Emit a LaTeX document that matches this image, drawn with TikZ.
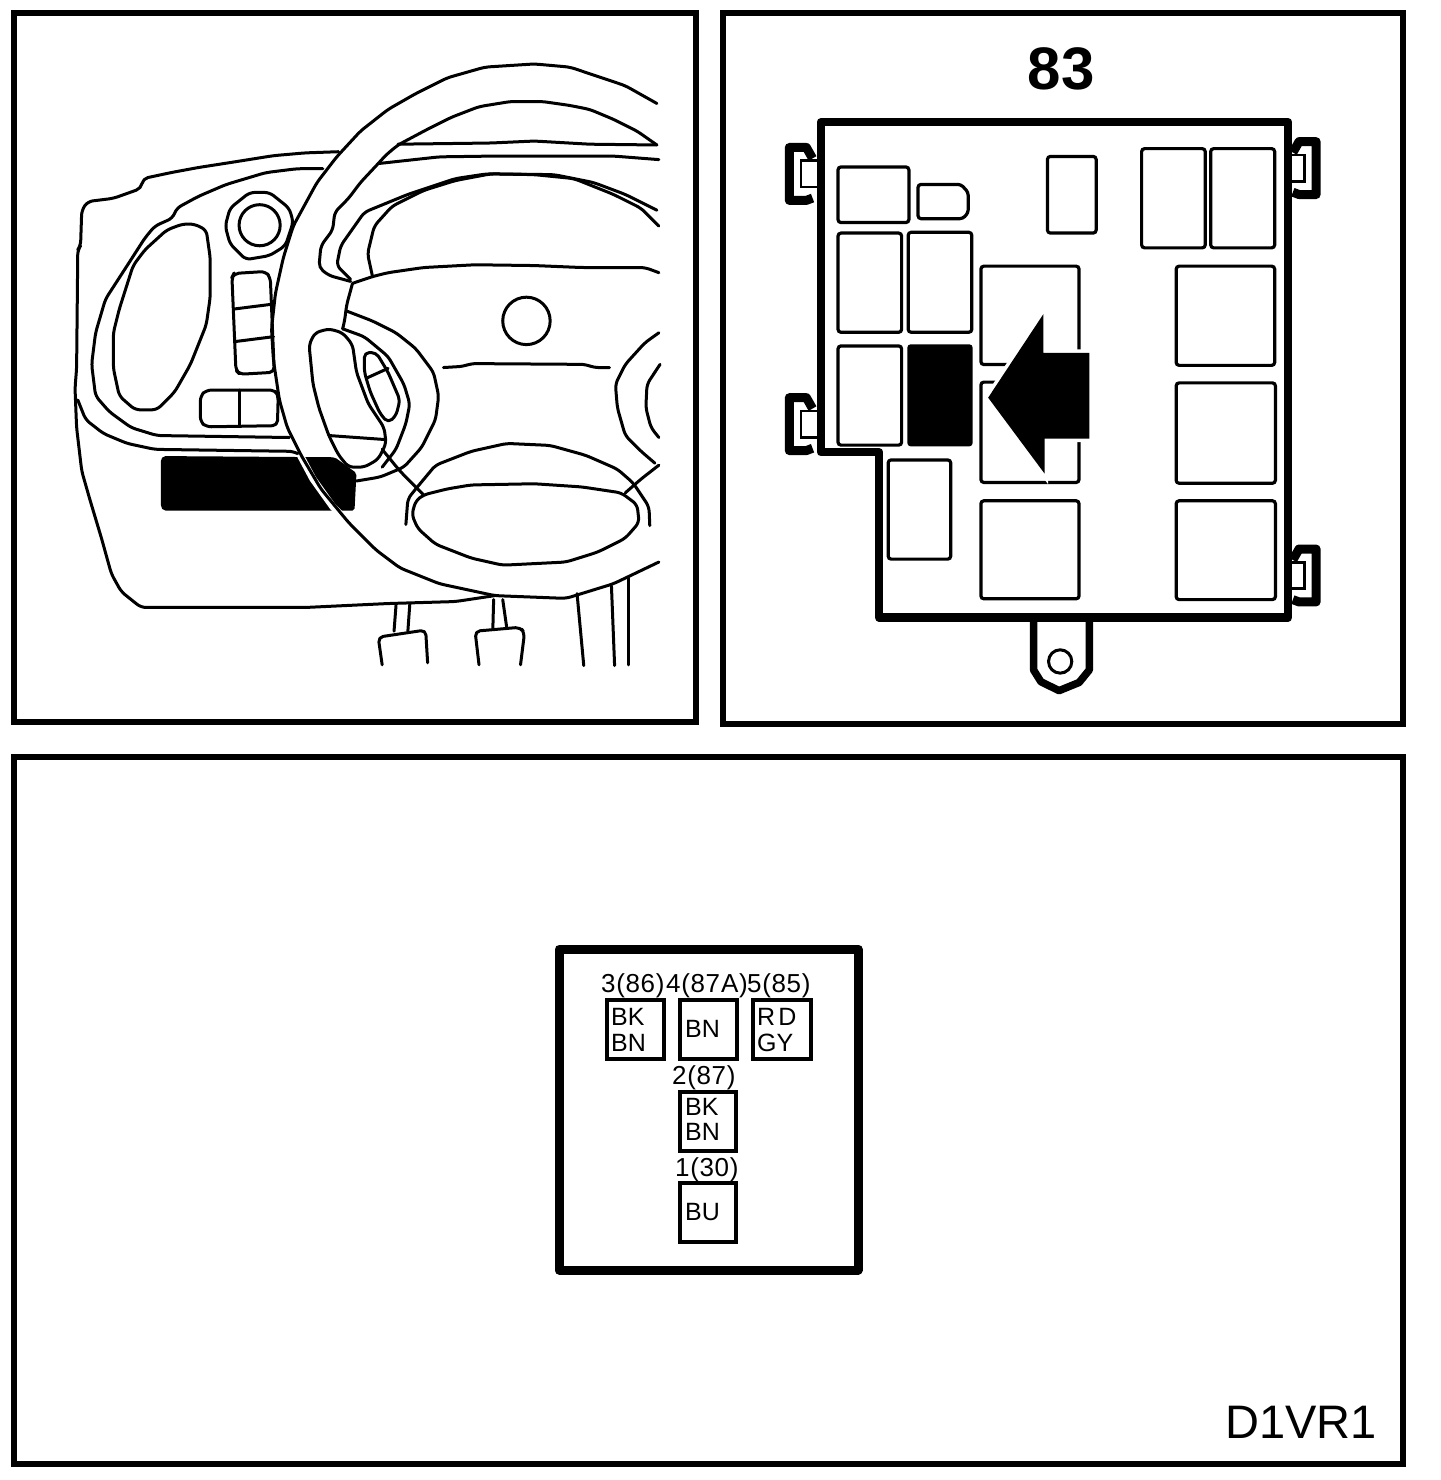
\documentclass[tikz,border=0pt]{standalone}
\usepackage{fontspec}
\setmainfont{Liberation Sans}
\newfontfamily\labfont[LetterSpace=2.5]{Liberation Sans}
\newcommand{\wirefs}{\fontsize{25}{25}\selectfont}
\newcommand{\labfs}{\fontsize{26}{26}\selectfont}
\tikzset{
  panel/.style={draw=black,line width=5.5pt,fill=white},
  art/.style={draw=black,line width=3pt,line join=round,line cap=round,rounded corners=5pt},
  relay/.style={draw=black,line width=3.2pt,rounded corners=3pt},
  pin/.style={draw=black,line width=3.5pt},
  pinlabel/.style={anchor=base west,inner sep=0pt,font=\labfont\labfs},
  wire/.style={anchor=base west,inner sep=0pt,font=\wirefs},
  lug/.pic={
    \draw[black,line width=9pt,line join=round] (-8,62)--(-25,68)--(-72,68)--(-72,-68)--(-25,-68)--(-8,-40);
    \draw[black,line width=2.5pt] (-40,-34) rectangle (8,34);
  }
}
\begin{document}
\begin{tikzpicture}[x=1pt,y=-1pt]
\useasboundingbox (0,0) rectangle (1440,1480);
\fill[white] (0,0) rectangle (1440,1480);
\draw[panel] (14,13) rectangle (696,722);
\draw[panel] (723,13) rectangle (1403,724);
\draw[panel] (14,757) rectangle (1403,1464);

% ---- dashboard ----
\begin{scope}[shift={(60,60)},x=0.3953pt,y=-0.3953pt]
\fill[black,rounded corners=2pt] (262,1002)--(695,1005)--(750,1045)--(745,1140)--(262,1140)--(255,1130)--(255,1010)--cycle;
\draw[white,line width=7pt] (600,985)--(640,1060)--(690,1130)--(725,1165);
\draw[art] (705,232)--(620,235)--(540,242)--(440,258)--(350,272)--(280,285)--(210,300)--(205,325)--(135,350)--(70,358)--(55,380)--(52,470)--(45,480)--(42,780)--(38,830)--(42,930)--(55,1040)--(75,1110)--(105,1210)--(130,1300)--(155,1345)--(205,1385)--(620,1385)--(830,1375)--(1000,1370)--(1100,1355);
\draw[art] (1510,110)--(1430,65)--(1290,18)--(1200,10)--(1075,18)--(980,45)--(900,85)--(830,125)--(760,180)--(700,245)--(650,310)--(590,420)--(565,500)--(545,590)--(535,680)--(540,760)--(555,860)--(575,930)--(610,1000)--(660,1085)--(730,1170)--(800,1240)--(860,1285)--(960,1325)--(1100,1355)--(1280,1362)--(1400,1325)--(1515,1270);
\draw[art] (665,275)--(600,275)--(520,285)--(420,315)--(350,345)--(295,375)--(285,400)--(240,420)--(215,450)--(170,520)--(115,605)--(90,690)--(80,770)--(90,850)--(125,890)--(180,930)--(245,950)--(580,955);
\draw[art] (45,860)--(65,910)--(110,945)--(170,970)--(240,985)--(590,990)--(600,995);
\draw[art] (340,415)--(370,430)--(380,500)--(380,600)--(370,670)--(330,770)--(290,840)--(245,885)--(190,885)--(150,850)--(135,780)--(135,690)--(150,630)--(185,520)--(215,480)--(270,430)--(310,415)--cycle;
\draw[art] (480,335)--(530,335)--(580,375)--(590,410)--(570,470)--(530,495)--(470,505)--(430,465)--(418,420)--(430,375)--cycle;
\draw[art] (505,418) circle[radius=52];
\draw[art] (440,540)--(520,535)--(532,550)--(542,790)--(455,795)--(445,785)--(435,550)--cycle;
\draw[art] (440,630)--(535,618);
\draw[art] (445,712)--(540,700);
\draw[art] (370,835)--(545,835)--(552,850)--(550,925)--(370,928)--(355,915)--(355,850)--cycle;
\draw[art] (455,835)--(455,925);
\draw[art] (1510,215)--(1460,180)--(1400,150)--(1340,125)--(1290,115)--(1220,105)--(1140,105)--(1060,118)--(990,145)--(930,175)--(855,215)--(825,240)--(805,262)--(760,310)--(730,350)--(695,385)--(690,430)--(660,470)--(655,525)--(680,545)--(735,560);
\draw[art] (855,213)--(1090,210)--(1200,205)--(1340,213)--(1510,215);
\draw[art] (805,262)--(960,245)--(1100,243)--(1400,243)--(1515,252);
\draw[art] (735,555)--(700,520)--(710,470)--(770,385)--(880,340)--(1000,300)--(1080,288)--(1250,290)--(1350,310)--(1430,340)--(1510,380);
\draw[art] (790,545)--(778,490)--(795,420)--(840,370)--(920,330)--(1000,305)--(1090,288)--(1200,290)--(1300,300)--(1400,340)--(1470,375)--(1515,420);
\draw[art] (740,565)--(790,548)--(830,538)--(920,525)--(1050,518)--(1200,520)--(1320,525)--(1480,525)--(1515,538);
\draw[art] (740,565)--(725,620)--(720,660)--(715,680);
\draw[art] (1180,660) circle[radius=60];
\draw[art] (970,778)--(1020,775)--(1040,768)--(1330,770)--(1350,778)--(1390,778);
\draw[art] (680,680)--(715,690)--(740,720)--(750,790)--(780,870)--(820,930)--(825,970)--(805,1010)--(770,1030)--(730,1030)--(705,1000)--(680,950)--(655,880)--(640,820)--(630,720)--(645,690)--cycle;
\draw[art] (680,950)--(820,960);
\draw[art] (725,635)--(790,660)--(850,690)--(900,730)--(945,790)--(958,850)--(950,910)--(915,980)--(870,1030)--(810,1055)--(750,1065);
\draw[art] (715,680)--(770,700)--(830,750)--(870,820)--(885,870)--(875,920)--(850,985)--(815,1030);
\draw[art] (770,740)--(800,740)--(830,790)--(860,860)--(850,900)--(830,918)--(810,895)--(785,840)--(770,790)--cycle;
\draw[art] (775,805)--(830,780);
\draw[art] (815,985)--(860,1040)--(920,1100);
\draw[art] (875,1175)--(880,1110)--(900,1085)--(950,1025)--(1040,990)--(1130,970)--(1240,975)--(1330,1000)--(1410,1035)--(1450,1070)--(1490,1130)--(1492,1178);
\draw[art] (920,1100)--(980,1085)--(1040,1075)--(1200,1072)--(1320,1080)--(1420,1095)--(1460,1125)--(1465,1170)--(1430,1210)--(1360,1245)--(1280,1270)--(1120,1278)--(1040,1260)--(950,1225)--(905,1185)--(890,1150)--(900,1115)--cycle;
\draw[art] (1430,1095)--(1470,1060)--(1515,1025);
\draw[art] (1515,690)--(1480,715)--(1430,770)--(1405,820)--(1410,880)--(1430,950)--(1470,990)--(1505,1020);
\draw[art] (1518,770)--(1485,820)--(1482,880)--(1495,930)--(1515,955);
\draw[art] (850,1380)--(845,1445);
\draw[art] (885,1375)--(880,1445);
\draw[art] (815,1530)--(805,1460)--(925,1442)--(930,1525);
\draw[art] (1097,1365)--(1095,1438);
\draw[art] (1120,1365)--(1130,1435);
\draw[art] (1060,1530)--(1050,1445)--(1165,1435)--(1175,1450)--(1165,1530);
\draw[art] (1308,1350)--(1325,1532);
\draw[art] (1395,1330)--(1403,1532);
\draw[art] (1438,1310)--(1438,1530);
\end{scope}

% ---- fuse box ----
\node[anchor=base,inner sep=0pt,font=\bfseries\fontsize{60}{60}\selectfont] (title) at (1061,89) {83};
\begin{scope}[shift={(770,100)},x=0.3636pt,y=-0.3891pt]
\draw[black,line width=8.5pt,line join=round] (140,57)--(1425,57)--(1425,1330)--(300,1330)--(300,905)--(140,905)--cycle;
\pic at (125,190) {lug};
\pic at (125,833) {lug};
\pic[xscale=-1] at (1430,175) {lug};
\pic[xscale=-1] at (1430,1222) {lug};
\draw[black,line width=7.5pt,line join=round] (725,1330)--(725,1465)--(745,1495)--(795,1518)--(850,1497)--(878,1465)--(878,1330);
\draw[black,line width=3pt] (798,1443) circle[x radius=32,y radius=30];
\draw[relay] (187,172) rectangle (382,315);
\draw[relay] (407,217)--(525,217)--(545,237)--(545,290)--(530,305)--(407,305)--cycle;
\draw[relay] (763,145) rectangle (897,342);
\draw[relay] (1022,125) rectangle (1197,380);
\draw[relay] (1212,125) rectangle (1388,380);
\draw[relay] (187,342) rectangle (362,597);
\draw[relay] (380,340) rectangle (555,597);
\draw[relay] (580,427) rectangle (850,680);
\draw[relay] (1117,427) rectangle (1388,682);
\draw[relay] (187,632) rectangle (362,887);
\fill[black,rounded corners=3pt] (378,628) rectangle (557,890);
\draw[relay] (580,725) rectangle (850,983);
\draw[relay] (1117,727) rectangle (1390,985);
\draw[relay] (325,925) rectangle (497,1180);
\draw[relay] (580,1030) rectangle (850,1282);
\draw[relay] (1117,1030) rectangle (1390,1284);
\draw[white,line width=7pt,fill=white] (752,550)--(752,650)--(878,650)--(878,870)--(755,870)--(755,960)--(600,765)--cycle;
\fill[black] (752,550)--(752,650)--(878,650)--(878,870)--(755,870)--(755,960)--(600,765)--cycle;
\end{scope}

% ---- connector ----
\draw[black,line width=9pt,line join=round] (559,949) rectangle (858,1270);
\draw[pin] (607,1000) rectangle (664,1059);
\draw[pin,line width=4.5pt] (680,1000) rectangle (737,1059);
\draw[pin] (753,1000) rectangle (811,1059);
\draw[pin] (680,1092) rectangle (736,1151);
\draw[pin] (680,1183) rectangle (736,1242);
\node[pinlabel] (p3) at (601,992) {3(86)};
\node[pinlabel] (p4) at (666,992) {4(87\kern1pt A)};
\node[pinlabel] (p5) at (747,992) {5(85)};
\node[pinlabel] (p2) at (672,1084) {2(87)};
\node[pinlabel] (p1) at (675,1176) {1(30)};
\node[wire] (w3a) at (611,1025) {BK};
\node[wire] (w3b) at (611,1051) {BN};
\node[wire] (w4) at (685,1037) {BN};
\node[wire] (w5a) at (757,1025) {R\kern3pt D};
\node[wire] (w5b) at (757,1051) {GY};
\node[wire] (w2a) at (685,1115) {BK};
\node[wire] (w2b) at (685,1140) {BN};
\node[wire] (w1) at (685,1220) {BU};
\node[anchor=base east,inner sep=0pt,font=\fontsize{47}{47}\selectfont] (code) at (1377,1438) {D1VR1};
\end{tikzpicture}
\end{document}
